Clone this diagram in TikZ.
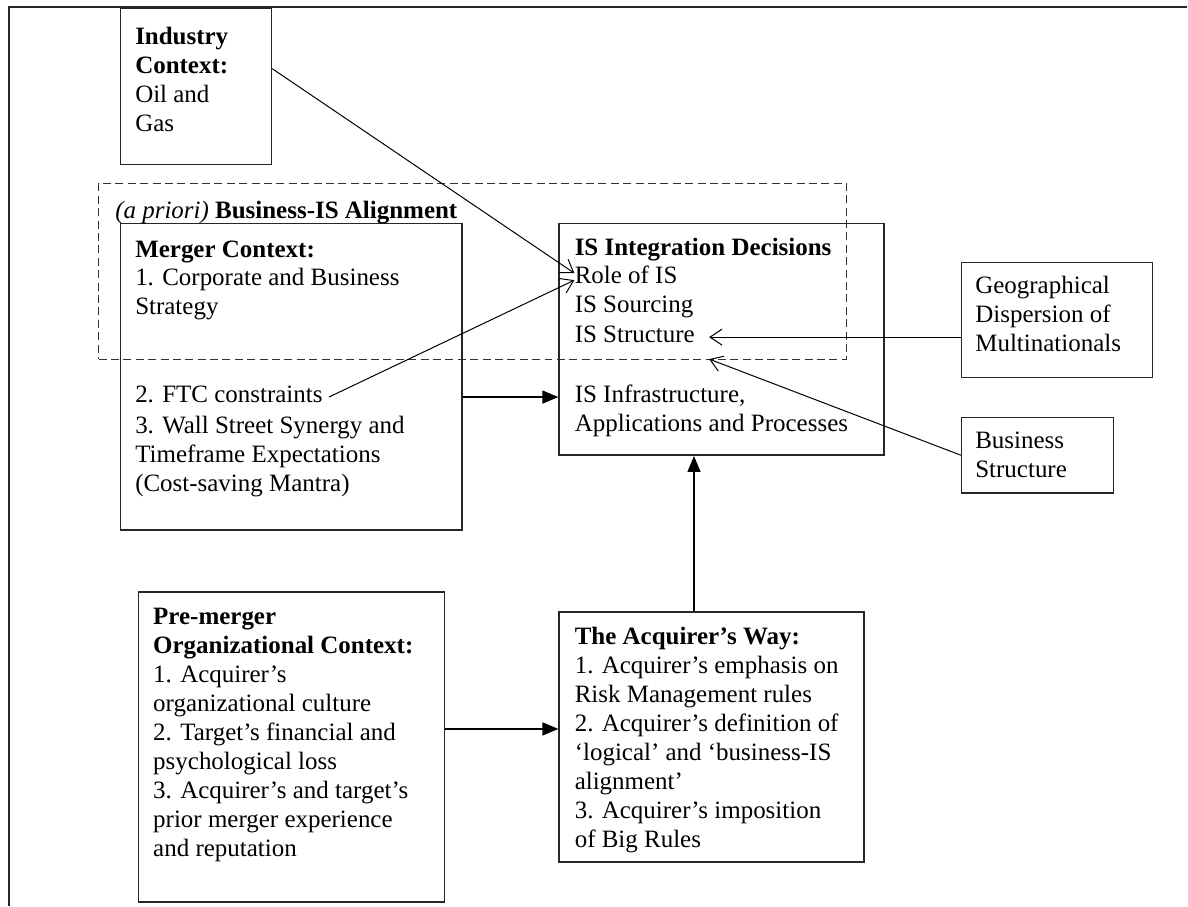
\documentclass[tikz,border=0pt]{standalone}
\usepackage{fontspec}
\setmainfont{Liberation Serif}
\usetikzlibrary{arrows.meta}
\begin{document}
\begin{tikzpicture}[x=0.5pt,y=-0.5pt,
  box/.style={draw=black!85, line width=0.75pt, inner sep=0pt, anchor=north west},
  groupbox/.style={draw=black!80, line width=0.7pt, dash pattern=on 4pt off 2.2pt, inner sep=0pt, anchor=north west},
  txt/.style={anchor=north west, inner sep=0pt, align=left, font=\fontsize{12.5}{14.5}\selectfont},
  openarrow/.style={line width=0.5pt, -{Straight Barb[length=6pt,width=8pt]}},
  solidarrow/.style={line width=0.75pt, -{Triangle[length=8pt,width=6.5pt]}},
]
% page and frame
\fill[white] (0,0) rectangle (1188,907);
\draw[line width=1.3pt, black!85] (8,7) -- (1188,7);
\draw[line width=1pt, black!85] (9,7) -- (9,907);

% boxes
\node[box, minimum width=75.5pt, minimum height=78pt] (industry) at (120,8) {};
\node[groupbox, minimum width=374.5pt, minimum height=88pt] (alignment) at (98,183) {};
\node[box, minimum width=171pt, minimum height=153.5pt] (merger) at (120,223) {};
\node[box, minimum width=162.5pt, minimum height=116pt] (isbox) at (559,223) {};
\node[box, minimum width=95.5pt, minimum height=57.5pt] (geo) at (962,262) {};
\node[box, minimum width=76pt, minimum height=38pt] (bus) at (962,417) {};
\node[box, minimum width=153pt, minimum height=155pt] (pre) at (138,592) {};
\node[box, minimum width=152.5pt, minimum height=125pt] (acq) at (559,612) {};

% texts
\node[txt] (industrytxt) at (135,23.6) {\strut\textbf{Industry}\\\textbf{Context:}\\Oil and\\Gas};
\node[txt] (alignlabel) at (115,197.6) {\strut\textit{(a priori)} \textbf{Business-IS Alignment}};
\node[txt] (mergertxt) at (135,236.6) {\strut\textbf{Merger Context:}\\1. Corporate and Business\\Strategy};
\node[txt] (ftc) at (135,382.6) {\strut 2. FTC constraints};
\node[txt] (mergertxt2) at (135,413.6) {\strut 3. Wall Street Synergy and\\Timeframe Expectations\\(Cost-saving Mantra)};
\node[txt] (ishead) at (575,234.6) {\strut\textbf{IS Integration Decisions}};
\node[txt] (role) at (575,263.6) {\strut Role of IS};
\node[txt] (sourcing) at (575,292.6) {\strut IS Sourcing};
\node[txt] (structure) at (575,322.6) {\strut IS Structure};
\node[txt] (infra) at (575,382.6) {\strut IS Infrastructure,\\Applications and Processes};
\node[txt] (geotxt) at (976,273.6) {\strut Geographical\\Dispersion of\\Multinationals};
\node[txt] (bustxt) at (976,428.6) {\strut Business\\Structure};
\node[txt] (pretxt) at (153,604.6) {\strut\textbf{Pre-merger}\\\textbf{Organizational Context:}\\1. Acquirer’s\\organizational culture\\2. Target’s financial and\\psychological loss\\3. Acquirer’s and target’s\\prior merger experience\\and reputation};
\node[txt] (acqtxt) at (575,624.6) {\strut\textbf{The Acquirer’s Way:}\\1. Acquirer’s emphasis on\\Risk Management rules\\2. Acquirer’s definition of\\‘logical’ and ‘business-IS\\alignment’\\3. Acquirer’s imposition\\of Big Rules};

% helper points for connectors
\coordinate (acqup) at ([xshift=-8.75pt]acq.north);
\coordinate (premid) at ([yshift=4pt]acq.west);
\coordinate (bstip) at ([xshift=7pt,yshift=-11pt]structure.east);

% connectors
\draw[openarrow] ([yshift=9pt]industry.east) -- ([yshift=2.5pt]role.west);
\draw[openarrow] ([xshift=3pt]ftc.east) -- ([yshift=-1pt]role.west);
\draw[solidarrow] (ftc -| merger.east) -- (ftc -| isbox.west);
\draw[solidarrow] (acqup) -- (acqup |- isbox.south);
\draw[solidarrow] (premid -| pre.east) -- (premid);
\draw[openarrow] (structure.east -| geo.west) -- ([xshift=7pt]structure.east);
\draw[openarrow] (bus.west) -- (bstip);
\end{tikzpicture}
\end{document}
